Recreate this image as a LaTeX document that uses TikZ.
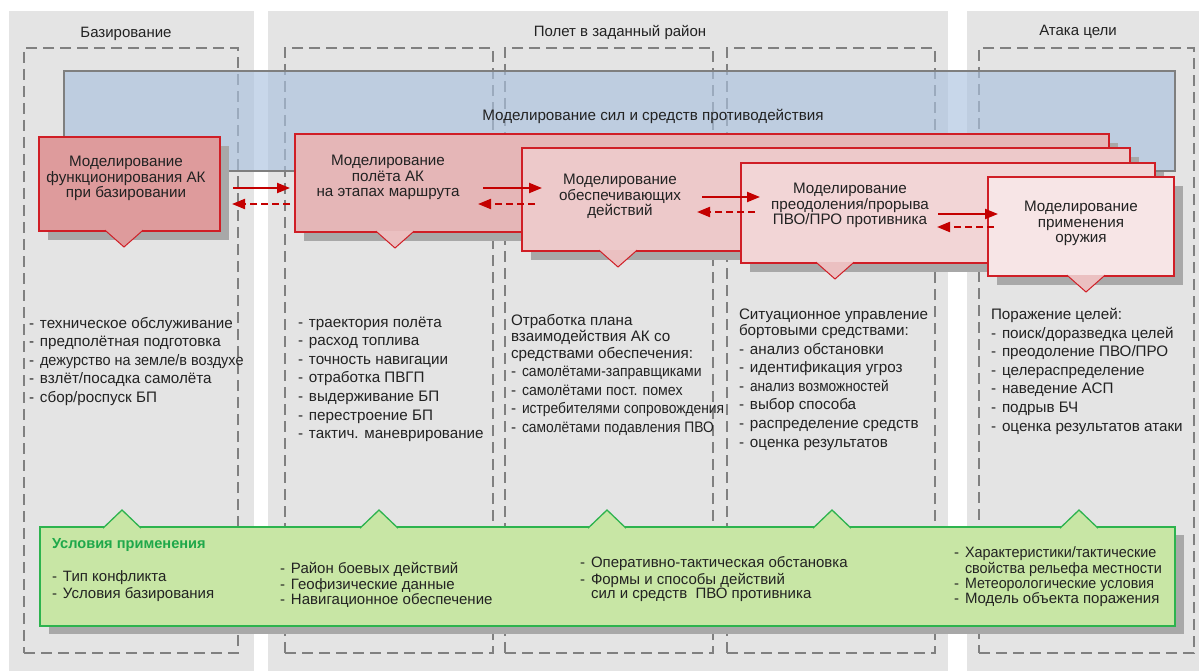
\documentclass[tikz,border=0pt]{standalone}
\usepackage{fontspec}
\setmainfont{Liberation Sans}
\usetikzlibrary{arrows.meta,shadows}

\definecolor{panelgray}{HTML}{E4E4E4}
\definecolor{dashgray}{HTML}{808080}
\definecolor{bluebase}{HTML}{AAC1DE}
\definecolor{blueline}{HTML}{7F7F7F}
\definecolor{shadowgray}{HTML}{A8A8A8}
\definecolor{redline}{HTML}{D01E26}
\definecolor{arrowred}{HTML}{C40000}
\definecolor{fillA}{HTML}{DE9B9C}
\definecolor{fillB}{HTML}{E5B6B7}
\definecolor{fillC}{HTML}{EDC9CA}
\definecolor{fillD}{HTML}{F2D5D6}
\definecolor{fillE}{HTML}{F7E5E6}
\definecolor{tailfill}{HTML}{EBC0C1}
\definecolor{greenfill}{HTML}{C8E6A5}
\definecolor{greenline}{HTML}{2DB34E}
\definecolor{greentext}{HTML}{1FA84A}
\definecolor{txt}{HTML}{222222}

% list bullet: a dash followed by a fixed gap
\newcommand\itm{\makebox[11pt][l]{-}}
% horizontally condensed text
\newcommand\narrow[2][0.9]{\scalebox{#1}[1]{#2}}
% downward tail under a model box: node, centre offset from south west, fill
\newcommand\downtail[3]{%
  \filldraw[fill=#3,draw=redline,line width=1pt]
    ([xshift=#2pt-19pt,yshift=0.8pt]#1.south west) --
    ([xshift=#2pt,yshift=-16pt]#1.south west) --
    ([xshift=#2pt+19pt,yshift=0.8pt]#1.south west);}
% upward tail on the conditions box
\newcommand\uptail[2]{%
  \filldraw[fill=greenfill,draw=greenline,line width=1.3pt]
    ([xshift=#2pt-19pt,yshift=-1.2pt]#1.north west) --
    ([xshift=#2pt,yshift=17pt]#1.north west) --
    ([xshift=#2pt+19pt,yshift=-1.2pt]#1.north west);}

\begin{document}
\begin{tikzpicture}[x=1pt,y=-1pt,
  every node/.style={inner sep=0pt,outer sep=0pt,text=txt},
  panel/.style={fill=panelgray,anchor=north west},
  frame/.style={draw=dashgray,line width=1.4pt,dash pattern=on 11pt off 6pt,anchor=north west},
  title/.style={font=\fontsize{15}{17}\selectfont},
  modbox/.style={draw=redline,line width=1.1pt,anchor=north west,
    drop shadow={shadow xshift=9pt,shadow yshift=-9pt,fill=shadowgray,opacity=1}},
  boxtext/.style={align=center,font=\fontsize{15.2}{15.4}\selectfont},
  list/.style={align=left,anchor=north west,font=\fontsize{15.2}{18.6}\selectfont},
  glist/.style={align=left,anchor=north west,font=\fontsize{15}{14.8}\selectfont},
  fwd/.style={draw=arrowred,line width=2.1pt,-{Triangle[length=13pt,width=10pt]}},
  back/.style={draw=arrowred,line width=2.1pt,dash pattern=on 7pt off 4pt,
    -{Triangle[length=13pt,width=10pt]}}]

\useasboundingbox (0,0) rectangle (1199,671);

% phase panels
\node[panel,minimum width=245,minimum height=660] (pBase) at (9,11) {};
\node[panel,minimum width=680,minimum height=660] (pFlight) at (268,11) {};
\node[panel,minimum width=232,minimum height=660] (pAttack) at (967,11) {};

\node[title] (hBase) at (126,34) {Базирование};
\node[title] (hFlight) at (620,32) {Полет в заданный район};
\node[title] (hAttack) at (1078,32) {Атака цели};

% stage frames
\node[frame,minimum width=214,minimum height=605] (fA) at (24,48) {};
\node[frame,minimum width=208,minimum height=605] (fB) at (285,48) {};
\node[frame,minimum width=208,minimum height=605] (fC) at (505,48) {};
\node[frame,minimum width=208,minimum height=605] (fD) at (727,48) {};
\node[frame,minimum width=215,minimum height=605] (fE) at (979,48) {};

% counteraction band
\node[anchor=north west,fill=bluebase,fill opacity=0.65,draw=blueline,line width=2pt,
  minimum width=1111,minimum height=100] (band) at (64,71) {};
\node[font=\fontsize{15.2}{17}\selectfont] (bandtext) at (653,116)
  {Моделирование сил и средств противодействия};

% model boxes
\node[modbox,fill=fillA,minimum width=181,minimum height=94] (bA) at (39,137) {};
\downtail{bA}{85}{fillA}
\node[modbox,fill=fillB,minimum width=814,minimum height=98] (bB) at (295,134) {};
\downtail{bB}{100}{tailfill}
\node[modbox,fill=fillC,minimum width=608,minimum height=103] (bC) at (522,148) {};
\downtail{bC}{96}{tailfill}
\node[modbox,fill=fillD,minimum width=414,minimum height=100] (bD) at (741,163) {};
\downtail{bD}{94}{tailfill}
\node[modbox,fill=fillE,minimum width=186,minimum height=99] (bE) at (988,177) {};
\downtail{bE}{98}{tailfill}

\node[boxtext] (tA) at (126,178.5) {Моделирование\\функционирования АК\\при базировании};
\node[boxtext] (tB) at (388,177.5) {Моделирование\\полёта АК\\на этапах маршрута};
\node[boxtext] (tC) at (620,196.5) {Моделирование\\обеспечивающих\\действий};
\node[boxtext] (tD) at (850,205.5) {Моделирование\\преодоления/прорыва\\ПВО/ПРО противника};
\node[boxtext] (tE) at (1081,223.5) {Моделирование\\применения\\оружия};

% forward and return links between stages
\draw[fwd]  ([xshift=-62pt,yshift=-5pt]bB.west)  -- ([xshift=-5pt,yshift=-5pt]bB.west);
\draw[back] ([xshift=-5pt,yshift=-21pt]bB.west)  -- ([xshift=-63pt,yshift=-21pt]bB.west);
\draw[fwd]  ([xshift=-39pt,yshift=11.5pt]bC.west) -- ([xshift=20pt,yshift=11.5pt]bC.west);
\draw[back] ([xshift=13pt,yshift=-4.5pt]bC.west) -- ([xshift=-44pt,yshift=-4.5pt]bC.west);
\draw[fwd]  ([xshift=-39pt,yshift=16pt]bD.west)  -- ([xshift=19pt,yshift=16pt]bD.west);
\draw[back] ([xshift=14pt,yshift=1pt]bD.west)    -- ([xshift=-44pt,yshift=1pt]bD.west);
\draw[fwd]  ([xshift=-50pt,yshift=12.5pt]bE.west) -- ([xshift=10pt,yshift=12.5pt]bE.west);
\draw[back] ([xshift=6pt,yshift=-0.5pt]bE.west)  -- ([xshift=-51pt,yshift=-0.5pt]bE.west);

% task lists
\node[list] (lA) at (29,315) {\strut\itm техническое обслуживание\\
  \itm предполётная подготовка\\ \itm \narrow[0.95]{дежурство на земле/в воздухе}\\
  \itm взлёт/посадка самолёта\\ \itm сбор/роспуск БП};
\node[list] (lB) at (298,314) {\strut\itm траектория полёта\\ \itm расход топлива\\
  \itm точность навигации\\ \itm отработка ПВГП\\ \itm выдерживание БП\\
  \itm перестроение БП\\ \itm тактич. маневрирование};
\node[list] (lC) at (511,312.5) {\strut Отработка плана\\[-2.3pt] взаимодействия АК со\\[-2.3pt]
  средствами обеспечения:\\ \itm\narrow[0.92]{самолётами-заправщиками}\\ \itm\narrow[0.93]{самолётами пост. помех}\\
  \itm\narrow[0.91]{истребителями сопровождения}\\ \itm\narrow[0.91]{самолётами подавления ПВО}};
\node[list] (lD) at (739,306.5) {\strut Ситуационное управление\\[-2.6pt] бортовыми средствами:\\
  \itm анализ обстановки\\ \itm идентификация угроз\\ \itm\narrow[0.9]{анализ возможностей}\\
  \itm выбор способа\\ \itm распределение средств\\ \itm оценка результатов};
\node[list] (lE) at (991,306.5) {\strut Поражение целей:\\ \itm поиск/доразведка целей\\
  \itm преодоление ПВО/ПРО\\ \itm целераспределение\\ \itm наведение АСП\\
  \itm подрыв БЧ\\ \itm оценка результатов атаки};

% conditions of use
\node[anchor=north west,fill=greenfill,draw=greenline,line width=1.6pt,
  minimum width=1135,minimum height=99,
  drop shadow={shadow xshift=9pt,shadow yshift=-8pt,fill=shadowgray,opacity=1}] (cond) at (40,527) {};
\uptail{cond}{82}
\uptail{cond}{339}
\uptail{cond}{567}
\uptail{cond}{792}
\uptail{cond}{1039}

\node[anchor=base west,text=greentext,font=\bfseries\fontsize{14.6}{16}\selectfont] (ctitle) at (52,548)
  {Условия применения};
\node[glist] (gA) at (52,571) {\strut\itm Тип конфликта\\ \itm Условия базирования};
\node[glist] (gB) at (280,562) {\strut\itm Район боевых действий\\ \itm Геофизические данные\\
  \itm Навигационное обеспечение};
\node[glist] (gC) at (580,556.5) {\strut\itm Оперативно-тактическая обстановка\\
  \itm Формы и способы действий\\ \hspace*{11pt}сил и средств~ ПВО противника};
\node[glist] (gD) at (954,546.5) {\strut\itm\narrow[0.96]{Характеристики/тактические}\\
  \hspace*{11pt}\narrow[0.96]{свойства рельефа местности}\\ \itm\narrow[0.95]{Метеорологические условия}\\
  \itm Модель объекта поражения};

\end{tikzpicture}
\end{document}
